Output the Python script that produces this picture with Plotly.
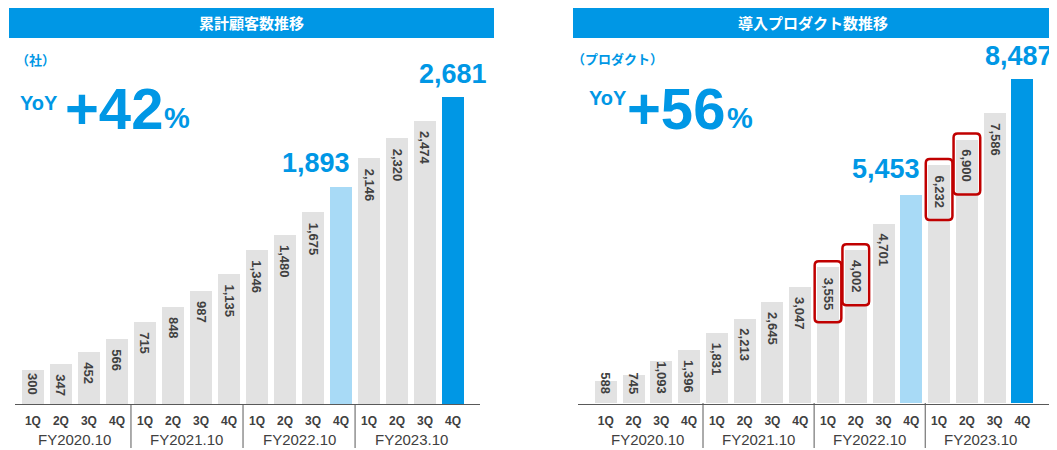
import plotly.graph_objects as go

# ------------------------------------------------------------------
# Data
# ------------------------------------------------------------------
quarters = ["1Q", "2Q", "3Q", "4Q"] * 4
fiscal_years = ["FY2020.10", "FY2021.10", "FY2022.10", "FY2023.10"]

customers = [300, 347, 452, 566, 715, 848, 987, 1135,
             1346, 1480, 1675, 1893, 2146, 2320, 2474, 2681]
products = [588, 745, 1093, 1396, 1831, 2213, 2645, 3047,
            3555, 4002, 4701, 5453, 6232, 6900, 7586, 8487]

prev_year_idx = 11      # 4Q FY2022 (light blue)
last_idx = 15           # 4Q FY2023 (dark blue)
boxed_idx = [8, 9, 12, 13]   # red frames on the product chart

left_title = "累計顧客数推移"
right_title = "導入プロダクト数推移"
left_unit = "（社）"
right_unit = "（プロダクト）"
left_yoy = "+42"
right_yoy = "+56"

# ------------------------------------------------------------------
# Style
# ------------------------------------------------------------------
W, H = 1057, 450
OFF = 8                 # page body margin
BLUE = "#0097E5"
LIGHT_BLUE = "#A8DAF6"
GRAY = "#E2E2E2"
TEXT = "#404040"
RED = "#C00000"
NUM_FONT = "Liberation Sans, Arial, sans-serif"
JP_FONT = "Noto Sans CJK JP, sans-serif"
BAR_W = 0.79
LABEL_SIZE = 13


def px(x):
    return (x - OFF) / W


def py(y):
    return 1 - (y - OFF) / H


def colors_for(n):
    cols = []
    for i in range(n):
        if i == last_idx:
            cols.append(BLUE)
        elif i == prev_year_idx:
            cols.append(LIGHT_BLUE)
        else:
            cols.append(GRAY)
    return cols


def text_len(s):
    # rough pixel length of a bold label
    return sum(0.28 if c == "," else 0.556 for c in s) * LABEL_SIZE


x_pos = list(range(len(quarters)))
left_base, right_base = 404, 403
left_scale = 307 / 2681       # px per unit
right_scale = 324 / 8487

fig = go.Figure()

for values, xa, ya in [(customers, "x", "y"), (products, "x2", "y2")]:
    fig.add_trace(
        go.Bar(
            x=x_pos,
            y=values,
            width=BAR_W,
            marker=dict(color=colors_for(len(values)), line=dict(width=0)),
            xaxis=xa,
            yaxis=ya,
            showlegend=False,
            hoverinfo="skip",
        )
    )

# ------------------------------------------------------------------
# Axes
# ------------------------------------------------------------------
xcommon = dict(
    tickmode="array",
    tickvals=x_pos,
    ticktext=quarters,
    showgrid=False,
    zeroline=False,
    showline=True,
    linecolor="#595959",
    linewidth=1,
    ticks="",
    ticklabelstandoff=6,
    tickfont=dict(family=NUM_FONT, size=12, color=TEXT, weight="bold"),
    fixedrange=True,
)
ycommon = dict(visible=False, showgrid=False, zeroline=False, fixedrange=True)

fig.update_layout(
    width=W,
    height=H,
    margin=dict(l=0, r=0, t=0, b=0),
    paper_bgcolor="rgba(0,0,0,0)",
    plot_bgcolor="rgba(0,0,0,0)",
    bargap=0,
    xaxis=dict(xcommon, domain=[px(15), px(480)], range=[-0.64, 15.96]),
    yaxis=dict(ycommon, domain=[py(left_base), 1], range=[0, (left_base - OFF) / left_scale]),
    xaxis2=dict(xcommon, domain=[px(578), px(1053)], range=[-1.0, 16.1]),
    yaxis2=dict(ycommon, domain=[py(right_base), 1], range=[0, (right_base - OFF) / right_scale]),
)

shapes = []
annotations = []

# ------------------------------------------------------------------
# Headers, units, YoY
# ------------------------------------------------------------------
for x0, x1, title in [(9, 494, left_title), (573, 1053, right_title)]:
    shapes.append(dict(type="rect", xref="paper", yref="paper",
                       x0=px(x0), x1=px(x1), y0=py(38), y1=py(8),
                       fillcolor=BLUE, line=dict(width=0), layer="below"))
    annotations.append(dict(xref="paper", yref="paper", x=px((x0 + x1) / 2), y=py(23),
                            xanchor="center", yanchor="middle",
                            text=f"<b>{title}</b>", showarrow=False,
                            font=dict(family=JP_FONT, size=15, color="white")))

annotations += [
    dict(xref="paper", yref="paper", x=px(14), y=py(60), xanchor="left", yanchor="middle",
         text=f"<b>{left_unit}</b>", showarrow=False,
         font=dict(family=JP_FONT, size=13, color=BLUE)),
    dict(xref="paper", yref="paper", x=px(570), y=py(59), xanchor="left", yanchor="middle",
         text=f"<b>{right_unit}</b>", showarrow=False,
         font=dict(family=JP_FONT, size=13, color=BLUE)),
]

for yoy_x, yoy_y, num_x, num_y, pct_x, pct_y, num in [
    (18, 103, 63, 108, 162, 118, left_yoy),
    (587, 98, 625, 108, 725, 118, right_yoy),
]:
    annotations += [
        dict(xref="paper", yref="paper", x=px(yoy_x), y=py(yoy_y), xanchor="left", yanchor="middle",
             text="<b>YoY</b>", showarrow=False,
             font=dict(family=NUM_FONT, size=20, color=BLUE)),
        dict(xref="paper", yref="paper", x=px(num_x), y=py(num_y), xanchor="left", yanchor="middle",
             text=f"<b>{num}</b>", showarrow=False,
             font=dict(family=NUM_FONT, size=58, color=BLUE)),
        dict(xref="paper", yref="paper", x=px(pct_x), y=py(pct_y), xanchor="left", yanchor="middle",
             text="<b>%</b>", showarrow=False,
             font=dict(family=NUM_FONT, size=29, color=BLUE)),
    ]

# ------------------------------------------------------------------
# Value labels (rotated, inside gray bars) + highlighted values
# ------------------------------------------------------------------
for values, xa, ya, scale, shifts, last_dx in [
    (customers, "x", "y", left_scale, (7, 6), 0),
    (products, "x2", "y2", right_scale, (9, 6), -3),
]:
    for i, v in enumerate(values):
        if i in (prev_year_idx, last_idx):
            continue
        label = f"{v:,}"
        if v * scale < text_len(label) + 18:
            pos = dict(y=0, yanchor="bottom", yshift=7)
        else:
            pos = dict(y=v, yanchor="top", yshift=-8)
        annotations.append(dict(xref=xa, yref=ya, x=i, xanchor="center", textangle=90,
                                text=f"<b>{label}</b>", showarrow=False,
                                font=dict(family=NUM_FONT, size=LABEL_SIZE, color=TEXT), **pos))

    annotations.append(dict(xref=xa, yref=ya, x=prev_year_idx + BAR_W / 2, y=values[prev_year_idx],
                            xanchor="right", yanchor="bottom", yshift=shifts[0],
                            text=f"<b>{values[prev_year_idx]:,}</b>", showarrow=False,
                            font=dict(family=NUM_FONT, size=27, color=BLUE)))
    annotations.append(dict(xref=xa, yref=ya, x=last_idx, y=values[last_idx],
                            xanchor="center", yanchor="bottom", yshift=shifts[1], xshift=last_dx,
                            text=f"<b>{values[last_idx]:,}</b>", showarrow=False,
                            font=dict(family=NUM_FONT, size=27, color=BLUE)))

# ------------------------------------------------------------------
# Fiscal year labels and dividers
# ------------------------------------------------------------------
for xa, base in [("x", left_base), ("x2", right_base)]:
    for g, fy in enumerate(fiscal_years):
        annotations.append(dict(xref=xa, yref="paper", x=g * 4 + 1.5, y=py(439),
                                xanchor="center", yanchor="middle",
                                text=fy, showarrow=False,
                                font=dict(family=NUM_FONT, size=15, color=TEXT)))
        if g > 0:
            shapes.append(dict(type="line", xref=xa, yref="paper",
                               x0=g * 4 - 0.5, x1=g * 4 - 0.5, y0=py(base), y1=py(448),
                               line=dict(color="#595959", width=1)))

# ------------------------------------------------------------------
# Red rounded frames (product chart)
# ------------------------------------------------------------------
hw = 0.48                     # half width in x units
rx = 0.15
ry = 4 / right_scale
for i in boxed_idx:
    top = products[i] + 6 / right_scale
    bot = products[i] - 55 / right_scale
    l, r = i - hw, i + hw
    path = (f"M {l + rx},{top} L {r - rx},{top} Q {r},{top} {r},{top - ry} "
            f"L {r},{bot + ry} Q {r},{bot} {r - rx},{bot} "
            f"L {l + rx},{bot} Q {l},{bot} {l},{bot + ry} "
            f"L {l},{top - ry} Q {l},{top} {l + rx},{top} Z")
    shapes.append(dict(type="path", xref="x2", yref="y2", path=path,
                       line=dict(color=RED, width=2.5)))

fig.update_layout(shapes=shapes, annotations=annotations)

fig.write_html("out.html")
